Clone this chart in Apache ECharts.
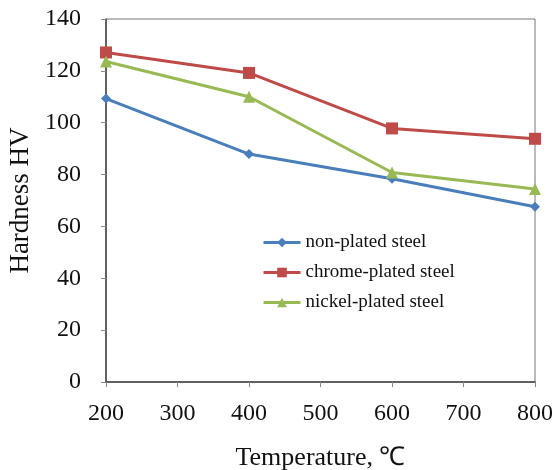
<!DOCTYPE html>
<html>
<head>
<meta charset="utf-8">
<script src="https://cdn.jsdelivr.net/npm/echarts@6/dist/echarts.min.js"></script>
<style>
  html, body { margin: 0; padding: 0; background: #fff; }
  #chart { width: 555px; height: 470px; }
</style>
</head>
<body>
<div id="chart"></div>
<script>
// Hardness vs. temperature for plated and non-plated steel
const temperatures = [200, 400, 600, 800];
const nonPlated = [109.3, 87.9, 78.4, 67.6];
const chromePlated = [127.1, 119.2, 97.8, 93.8];
const nickelPlated = [123.6, 110.0, 80.8, 74.4];
const seriesNames = ['non-plated steel', 'chrome-plated steel', 'nickel-plated steel'];

const serif = '"Liberation Serif", "Times New Roman", serif';
const pairs = vals => temperatures.map((t, i) => [t, vals[i]]);

const chart = echarts.init(document.getElementById('chart'));
chart.setOption({
  animation: false,
  backgroundColor: '#fff',
  grid: {
    left: 106, right: 20, top: 19, bottom: 88,
    outerBoundsMode: 'none', containLabel: false,
    show: true, borderColor: '#777', borderWidth: 1
  },
  legend: {
    orient: 'vertical',
    left: 257, top: 228,
    itemWidth: 37, itemHeight: 12, itemGap: 11,
    lineStyle: { width: 3 },
    textStyle: { fontFamily: serif, fontSize: 19, color: '#111' },
    data: seriesNames
  },
  xAxis: {
    type: 'value', min: 200, max: 800, interval: 100,
    name: 'Temperature, \u2103', nameLocation: 'middle', nameGap: 63,
    nameTextStyle: { fontFamily: serif, fontSize: 26, color: '#111' },
    axisLine: { lineStyle: { color: '#444', width: 1.5 } },
    axisTick: { show: true, inside: false, length: 5, lineStyle: { color: '#888' } },
    axisLabel: { fontFamily: serif, fontSize: 24, color: '#111', margin: 20 },
    splitLine: { show: false }
  },
  yAxis: {
    type: 'value', min: 0, max: 140, interval: 20,
    name: 'Hardness HV', nameLocation: 'middle', nameGap: 67,
    nameTextStyle: { fontFamily: serif, fontSize: 27, color: '#111' },
    axisLine: { show: true, lineStyle: { color: '#444', width: 1.5 } },
    axisTick: { show: true, inside: false, length: 5, lineStyle: { color: '#888' } },
    axisLabel: { fontFamily: serif, fontSize: 24, color: '#111', margin: 25 },
    splitLine: { show: false }
  },
  series: [
    {
      name: seriesNames[0], type: 'line', data: pairs(nonPlated),
      symbol: 'diamond', symbolSize: 10,
      lineStyle: { color: '#4a7ebb', width: 3 },
      itemStyle: { color: '#4a7ebb' }
    },
    {
      name: seriesNames[1], type: 'line', data: pairs(chromePlated),
      symbol: 'rect', symbolSize: 12,
      lineStyle: { color: '#be4b48', width: 3 },
      itemStyle: { color: '#be4b48' }
    },
    {
      name: seriesNames[2], type: 'line', data: pairs(nickelPlated),
      symbol: 'triangle', symbolSize: 12,
      lineStyle: { color: '#98b954', width: 3 },
      itemStyle: { color: '#98b954' }
    }
  ]
});
</script>
</body>
</html>
